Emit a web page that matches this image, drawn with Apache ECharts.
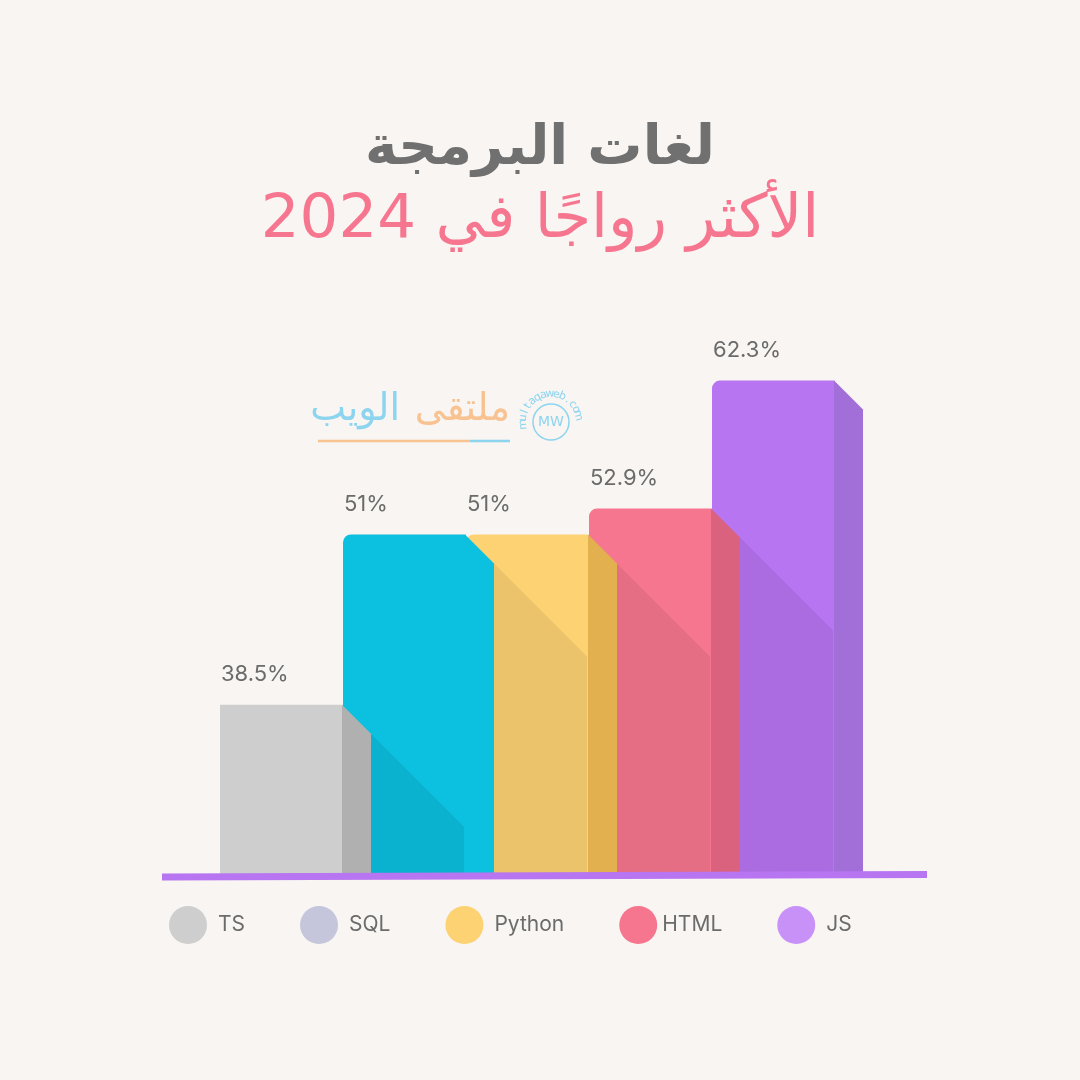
<!DOCTYPE html>
<html>
<head>
<meta charset="utf-8">
<script src="https://cdn.jsdelivr.net/npm/echarts@6/dist/echarts.min.js"></script>
<style>
html,body{margin:0;padding:0;background:#f8f5f2;}
#chart{width:1080px;height:1080px;}
</style>
</head>
<body>
<div id="chart"></div>
<script>
// ---- data ----
const categories = ['TS', 'SQL', 'Python', 'HTML', 'JS'];
const shares = [38.5, 51, 51, 52.9, 62.3];
const titleLine1 = 'لغات البرمجة';
const titleLine2 = 'الأكثر رواجًا في 2024';
const watermarkWord1 = 'ملتقى';
const watermarkWord2 = 'الويب';
const watermarkSite = 'multaqaweb.com';

// ---- styles ----
const frontColors = ['#cecece', '#0cc0df', '#fdd273', '#f7768f', '#b775f1'];
const sideColors = ['#b0b0b0', '#0cc0df', '#e3b04f', '#da627f', '#a26ed8'];
const legendColors = ['#cecece', '#c5c6dc', '#fdd273', '#f7768f', '#c891f8'];
const legendTextPad = [6, 6, 6, 0, 6];
const cornerRadius = [0, 8, 8, 8, 8];
const Y_MIN = 26, Y_MAX = 63;

const chart = echarts.init(document.getElementById('chart'));

function makeRender(i) {
  return function (params, api) {
    const idx = api.value(0);
    const val = api.value(1);
    const topPt = api.coord([idx, val]);
    const basePt = api.coord([idx, Y_MIN]);
    const bw = api.size([1, 0])[0];
    const L = topPt[0] - bw / 2;
    const fw = bw - 1;
    const R = L + fw;
    const sw = bw * 29 / 123;
    const shw = bw * 93 / 123;
    const top = topPt[1];
    const base = basePt[1];
    const children = [];
    if (i < categories.length - 1) {
      children.push({
        type: 'polygon',
        shape: { points: [[R + sw, top + sw], [R + sw + shw, top + sw + shw], [R + sw + shw, base], [R + sw, base]] },
        style: { fill: 'rgba(0,0,0,0.07)' }
      });
    }
    children.push({
      type: 'rect',
      shape: { x: L, y: top, width: fw + 0.6, height: base - top, r: [cornerRadius[i], 0, 0, 0] },
      style: { fill: frontColors[i] }
    });
    children.push({
      type: 'polygon',
      shape: { points: [[R, top], [R + sw, top + sw], [R + sw, base], [R, base]] },
      style: { fill: sideColors[i] }
    });
    children.push({
      type: 'text',
      style: {
        x: L + 1, y: top - 30, text: val + '%',
        fill: '#6b6b6b', font: '22px Inter', textAlign: 'left', textVerticalAlign: 'middle'
      }
    });
    return { type: 'group', children: children };
  };
}

const series = categories.map(function (name, i) {
  return {
    type: 'custom',
    name: name,
    z: 10 - i,
    itemStyle: { color: frontColors[i] },
    data: [[i, shares[i]]],
    renderItem: makeRender(i)
  };
});

// watermark arc letters
const wmGraphics = [];
const cx = 551, cy = 422, rArc = 28;
const n = watermarkSite.length;
for (let k = 0; k < n; k++) {
  const theta = (185 - k * (172 / (n - 1))) * Math.PI / 180;
  wmGraphics.push({
    type: 'text',
    x: cx + rArc * Math.cos(theta),
    y: cy - rArc * Math.sin(theta),
    rotation: theta - Math.PI / 2,
    style: { text: watermarkSite[k], font: '11px "DejaVu Sans"', fill: '#8dd4ef', textAlign: 'center', textVerticalAlign: 'middle' }
  });
}

const option = {
  backgroundColor: '#f8f5f2',
  animation: false,
  title: [
    { text: titleLine1, left: 'center', top: 117, textStyle: { fontFamily: 'DejaVu Sans', fontSize: 55, fontWeight: 'bold', color: '#707070' } },
    { text: titleLine2, left: 'center', top: 186, textStyle: { fontFamily: 'DejaVu Sans', fontSize: 61, fontWeight: 'normal', color: '#f7768f' } }
  ],
  grid: { left: 220, width: 615, top: 371, bottom: 205 },
  xAxis: { type: 'category', data: categories, show: false },
  yAxis: { type: 'value', min: Y_MIN, max: Y_MAX, show: false },
  legend: {
    left: 169, top: 906, padding: 0,
    icon: 'circle', itemWidth: 38, itemHeight: 38, itemGap: 55,
    textStyle: { fontFamily: 'Inter', fontSize: 21, color: '#6b6b6b', padding: [0, 0, 0, 6] },
    data: categories.map(function (c, i) {
      return { name: c, itemStyle: { color: legendColors[i] }, textStyle: { padding: [0, 0, 0, legendTextPad[i]] } };
    })
  },
  series: series,
  graphic: [
    { type: 'line', z: 100, shape: { x1: 162, y1: 877, x2: 927, y2: 874.5 }, style: { stroke: '#b775f1', lineWidth: 7 } },
    { type: 'text', x: 400, y: 410, style: { text: watermarkWord2, font: '38px "DejaVu Sans"', fill: '#8dd4ef', textAlign: 'right', textVerticalAlign: 'middle' } },
    { type: 'text', x: 510, y: 410, style: { text: watermarkWord1, font: '38px "DejaVu Sans"', fill: '#f8c291', textAlign: 'right', textVerticalAlign: 'middle' } },
    { type: 'line', shape: { x1: 318, y1: 441, x2: 470, y2: 441 }, style: { stroke: '#f8c291', lineWidth: 2.5 } },
    { type: 'line', shape: { x1: 470, y1: 441, x2: 510, y2: 441 }, style: { stroke: '#8dd4ef', lineWidth: 2.5 } },
    { type: 'circle', shape: { cx: cx, cy: cy, r: 18 }, style: { fill: 'none', stroke: '#8dd4ef', lineWidth: 1.5 } },
    { type: 'text', x: cx, y: cy, style: { text: 'MW', font: '14px "DejaVu Sans"', fill: '#8dd4ef', textAlign: 'center', textVerticalAlign: 'middle' } }
  ].concat(wmGraphics)
};
chart.setOption(option);
</script>
</body>
</html>
